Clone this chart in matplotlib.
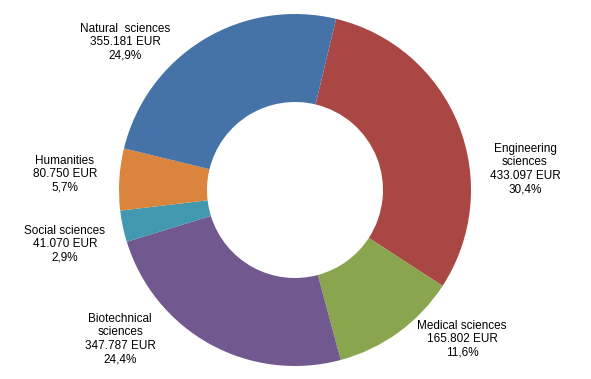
import matplotlib.pyplot as plt

categories = ['Engineering\nsciences', 'Medical sciences', 'Biotechnical\nsciences',
              'Social sciences', 'Humanities', 'Natural  sciences']
amounts = [433097, 165802, 347787, 41070, 80750, 355181]

colors = ['#AA4643', '#89A54E', '#71588F', '#4198AF', '#DB843D', '#4572A7']
# label centres in pixel coords (x, y from top)
label_pos = [(525, 169), (462, 339), (120, 339), (65, 244), (65, 174), (125, 42)]

plt.rcParams['font.family'] = ['Liberation Sans', 'DejaVu Sans']

W, H = 591, 379
fig = plt.figure(figsize=(W / 100, H / 100), dpi=100)
ax = fig.add_axes([0, 0, 1, 1])

ax.pie(amounts, colors=colors, startangle=76.5, counterclock=False,
       center=(295, H - 190), radius=176,
       wedgeprops=dict(width=88, linewidth=0))

total = sum(amounts)
for name, v, (x, y) in zip(categories, amounts, label_pos):
    eur = f"{v:,}".replace(',', '.')
    pct = f"{v / total * 100:.1f}".replace('.', ',')
    ax.text(x, H - y, f"{name}\n{eur} EUR\n{pct}%", ha='center', va='center',
            fontsize=8.5, linespacing=1.15, color='black')

ax.set_xlim(0, W)
ax.set_ylim(0, H)
ax.set_aspect('equal')
ax.axis('off')

fig.savefig('out.png', dpi=100)
